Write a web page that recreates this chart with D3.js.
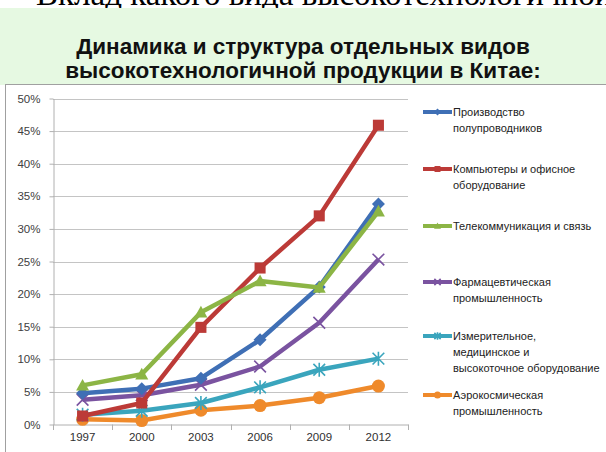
<!DOCTYPE html>
<html><head><meta charset="utf-8">
<script src="https://cdn.jsdelivr.net/npm/d3@7"></script>
<style>
html,body{margin:0;padding:0;background:#fff;}
svg{display:block;}
</style></head>
<body>
<svg id="c" width="606" height="452"></svg>
<script>
const years = ["1997","2000","2003","2006","2009","2012"];
const yTicks = [0,5,10,15,20,25,30,35,40,45,50];
const seriesNames = [
  ["Производство","полупроводников"],
  ["Компьютеры и офисное","оборудование"],
  ["Телекоммуникация и связь"],
  ["Фармацевтическая","промышленность"],
  ["Измерительное,","медицинское и","высокоточное оборудование"],
  ["Аэрокосмическая","промышленность"]
];
const semiconductors = [4.8, 5.5, 7.1, 13.0, 21.1, 33.8];
const computers      = [1.3, 3.3, 14.9, 24.0, 32.0, 45.9];
const telecom        = [6.0, 7.7, 17.2, 22.0, 21.0, 32.7];
const pharma         = [3.8, 4.5, 6.1, 8.9, 15.6, 25.3];
const instruments    = [1.5, 2.1, 3.3, 5.7, 8.4, 10.1];
const aerospace      = [0.8, 0.6, 2.2, 2.9, 4.1, 5.9];
const titleLines = ["Динамика и структура отдельных видов","высокотехнологичной продукции в Китае:"];
const topText = "Вклад какого вида высокотехнологичной продукции";

const colors = ["#3f6fb5","#bc3a37","#8cb545","#7a53a0","#3aa5bd","#ef8a2b"];
const markers = ["diamond","square","triangle","x","star","circle"];
const allSeries = [semiconductors, computers, telecom, pharma, instruments, aerospace];

const svg = d3.select("#c");
// top cut-off text (as in the reference, only its lower part is visible)
svg.append("text").attr("x",36).attr("y",5).attr("font-family","Liberation Serif, serif")
  .attr("font-size",33).attr("fill","#000").text(topText);
// green band
svg.append("rect").attr("x",0).attr("y",8).attr("width",606).attr("height",77).attr("fill","#e6f9e2");
titleLines.forEach((t,i)=>{
  svg.append("text").attr("x",303).attr("y",54+i*24).attr("text-anchor","middle")
    .attr("font-family","Liberation Sans, Arial, sans-serif").attr("font-weight","bold")
    .attr("font-size",22.5).attr("fill","#111").text(t);
});
// chart area
svg.append("rect").attr("x",5.5).attr("y",84.5).attr("width",610).attr("height",380)
  .attr("fill","#fff").attr("stroke","#a0a0a0").attr("stroke-width",1);

const x = d3.scaleBand().domain(years).range([53,408]);
const y = d3.scaleLinear().domain([0,50]).range([424.5,98.5]);

// gridlines
svg.append("g").selectAll("line").data(yTicks.filter(d=>d>0)).join("line")
  .attr("x1",53).attr("x2",408).attr("y1",d=>Math.round(y(d))+0.5).attr("y2",d=>Math.round(y(d))+0.5)
  .attr("stroke","#c4c4c4").attr("stroke-width",1);

const yAxis = svg.append("g").attr("transform","translate(53.5,0)")
  .call(d3.axisLeft(y).tickValues(yTicks).tickFormat(d=>d+"%").tickSize(4).tickSizeOuter(0));
yAxis.select(".domain").attr("stroke","#b0b0b0");
yAxis.selectAll(".tick line").attr("stroke","#b0b0b0");
yAxis.selectAll("text").attr("font-family","Liberation Sans, Arial, sans-serif").attr("font-size",11.5)
  .attr("fill","#404040").attr("x",-13);

const xAxis = svg.append("g").attr("transform","translate(0,424.5)")
  .call(d3.axisBottom(x).tickSize(0).tickSizeOuter(0));
xAxis.select(".domain").attr("stroke","#b0b0b0");
xAxis.selectAll("text").attr("font-family","Liberation Sans, Arial, sans-serif").attr("font-size",11.5)
  .attr("fill","#303030").attr("dy","1.2em");
// category boundary ticks
const bounds = years.map(d=>x(d)).concat([x.range()[1]]);
svg.append("g").selectAll("line").data(bounds).join("line")
  .attr("x1",d=>Math.round(d)+0.5).attr("x2",d=>Math.round(d)+0.5).attr("y1",424.5).attr("y2",430)
  .attr("stroke","#b0b0b0");

const cx = d=>x(d)+x.bandwidth()/2;
const line = d3.line().x((d,i)=>cx(years[i])).y(d=>y(d));

function marker(g, type, color, px, py, s){
  if(type==="diamond"){
    g.append("path").attr("d",`M${px},${py-s}L${px+s},${py}L${px},${py+s}L${px-s},${py}Z`).attr("fill",color);
  } else if(type==="square"){
    g.append("rect").attr("x",px-s*0.85).attr("y",py-s*0.85).attr("width",s*1.7).attr("height",s*1.7).attr("fill",color);
  } else if(type==="triangle"){
    g.append("path").attr("d",`M${px},${py-s}L${px+s},${py+s*0.8}L${px-s},${py+s*0.8}Z`).attr("fill",color);
  } else if(type==="x"){
    const a=s*0.9;
    g.append("path").attr("d",`M${px-a},${py-a}L${px+a},${py+a}M${px-a},${py+a}L${px+a},${py-a}`)
      .attr("stroke",color).attr("stroke-width",1.6);
  } else if(type==="star"){
    const a=s*0.9;
    g.append("path").attr("d",`M${px-a},${py-a}L${px+a},${py+a}M${px-a},${py+a}L${px+a},${py-a}M${px},${py-a*1.2}L${px},${py+a*1.2}`)
      .attr("stroke",color).attr("stroke-width",1.6);
  } else {
    g.append("circle").attr("cx",px).attr("cy",py).attr("r",s).attr("fill",color);
  }
}

const order = [5,4,3,0,1,2];
order.forEach(i=>{
  const data = allSeries[i];
  const g = svg.append("g");
  g.append("path").datum(data).attr("d",line).attr("fill","none").attr("stroke",colors[i])
    .attr("stroke-width",4.5).attr("stroke-linejoin","round");
  data.forEach((v,j)=>marker(g, markers[i], colors[i], cx(years[j]), y(v), 6.5));
});

// legend
const legendY = [116, 173, 230, 286, 340, 399];
seriesNames.forEach((lines,i)=>{
  const g = svg.append("g");
  const ly = legendY[i]-4;
  g.append("line").attr("x1",423).attr("x2",452).attr("y1",ly).attr("y2",ly)
    .attr("stroke",colors[i]).attr("stroke-width",4);
  marker(g, markers[i], colors[i], 437.5, ly, 3.5);
  lines.forEach((t,k)=>{
    g.append("text").attr("x",453).attr("y",legendY[i]+k*16)
      .attr("font-family","Liberation Sans, Arial, sans-serif").attr("font-size",11)
      .attr("fill","#222").text(t);
  });
});
</script>
</body></html>
